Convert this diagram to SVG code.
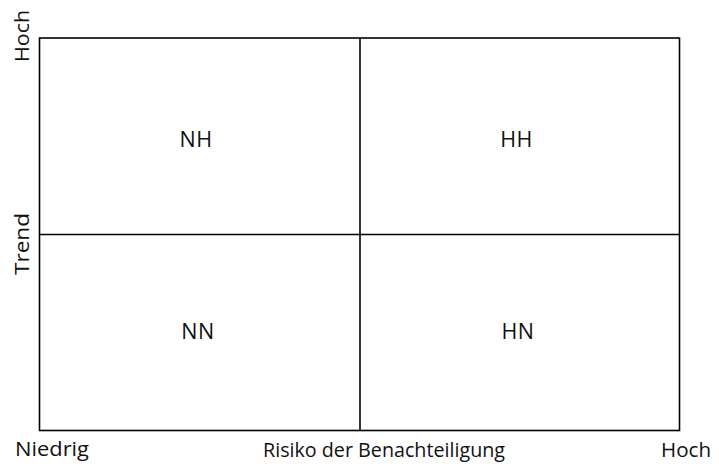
<svg xmlns="http://www.w3.org/2000/svg" width="719" height="466" viewBox="0 0 719 466">
<style>
.t{font-family:"Open Sans","Liberation Sans",sans-serif;fill:#111;}
.ax{font-size:20.5px;}
.lb{font-size:21.5px;letter-spacing:0.5px;text-anchor:middle;}
.ln{stroke:#000;stroke-width:1.6;fill:none;}
</style>
<rect width="719" height="466" fill="#fff"/>
<g id="connectors">
<rect class="ln" x="39.5" y="38" width="640" height="392.5"/>
<line class="ln" x1="360" y1="38" x2="360" y2="430.5"/>
<line class="ln" x1="39.5" y1="234.5" x2="679.5" y2="234.5"/>
</g>
<g id="NH"><text class="t lb" x="196" y="146.5">NH</text></g>
<g id="HH"><text class="t lb" x="516.5" y="146.5">HH</text></g>
<g id="NN"><text class="t lb" x="198" y="338.5">NN</text></g>
<g id="HN"><text class="t lb" x="518" y="338.5">HN</text></g>
<g id="axes">
<text class="t ax" transform="translate(28.5,62) rotate(-90)" textLength="52" lengthAdjust="spacingAndGlyphs">Hoch</text>
<text class="t ax" transform="translate(28.5,275) rotate(-90)" textLength="62" lengthAdjust="spacingAndGlyphs">Trend</text>
<text class="t ax" x="15" y="456" textLength="74" lengthAdjust="spacingAndGlyphs">Niedrig</text>
<text class="t ax" x="263" y="457" textLength="242" lengthAdjust="spacingAndGlyphs">Risiko der Benachteiligung</text>
<text class="t ax" x="661" y="457" textLength="50" lengthAdjust="spacingAndGlyphs">Hoch</text>
</g>
</svg>
